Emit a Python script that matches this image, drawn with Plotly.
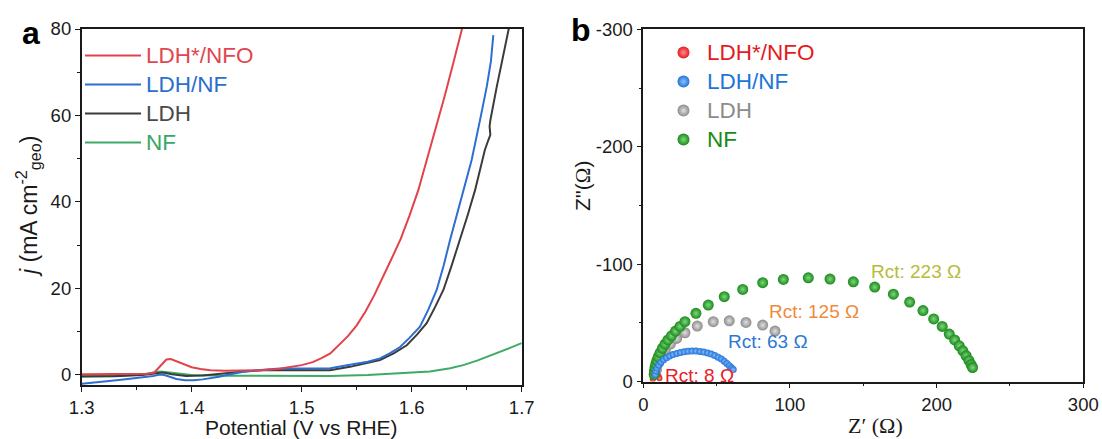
import plotly.graph_objects as go

W, H = 1102, 439
FONT = "Arial, Liberation Sans, sans-serif"
SERIF = "Times New Roman, Liberation Serif, serif"

# ---------------- Panel a : LSV ----------------
red_x = [1.300, 1.320, 1.340, 1.360, 1.366, 1.370, 1.374, 1.377, 1.381, 1.386, 1.392, 1.400, 1.408,
         1.417, 1.430, 1.445, 1.462, 1.478, 1.492, 1.500, 1.510, 1.518, 1.526, 1.534, 1.542, 1.550,
         1.558, 1.566, 1.574, 1.582, 1.590, 1.598, 1.606, 1.614, 1.622, 1.630, 1.638, 1.6455, 1.648]
red_y = [0.10, 0.10, 0.12, 0.20, 0.50, 1.60, 2.90, 3.50, 3.60, 3.10, 2.50, 1.70, 1.30,
         1.00, 0.90, 0.95, 1.00, 1.30, 1.80, 2.20, 2.90, 3.80, 4.90, 6.80, 8.90, 11.4,
         14.6, 18.4, 22.6, 27.0, 31.4, 36.8, 42.7, 49.8, 57.0, 64.5, 72.3, 79.8, 82.3]

blue_x = [1.300, 1.310, 1.325, 1.340, 1.356, 1.365, 1.371, 1.375, 1.380, 1.386, 1.394, 1.402, 1.410,
          1.418, 1.425, 1.432, 1.440, 1.447, 1.460, 1.477, 1.490, 1.508, 1.526, 1.540, 1.550, 1.560,
          1.5712, 1.580, 1.5894, 1.598, 1.6075, 1.615, 1.6227, 1.629, 1.6348, 1.641, 1.6469, 1.6545,
          1.6621, 1.6682, 1.672, 1.6742]
blue_y = [-2.10, -1.90, -1.45, -1.05, -0.65, -0.30, 0.05, -0.10, -0.50, -1.00, -1.30, -1.30, -1.10,
          -0.85, -0.50, -0.10, 0.30, 0.65, 1.00, 1.35, 1.40, 1.40, 1.50, 2.10, 2.50, 3.00,
          3.75, 4.90, 6.40, 8.50, 11.1, 15.0, 19.6, 25.2, 31.1, 37.0, 42.7, 49.7,
          58.9, 66.6, 72.5, 78.6]

black_x = [1.300, 1.330, 1.355, 1.368, 1.374, 1.382, 1.395, 1.410, 1.430, 1.450, 1.470, 1.490, 1.510,
           1.5257, 1.5439, 1.556, 1.5712, 1.584, 1.5955, 1.605, 1.6136, 1.621, 1.6288, 1.636, 1.6439,
           1.651, 1.6576, 1.6621, 1.6665, 1.6697, 1.6715, 1.6708, 1.6716, 1.6773, 1.683, 1.6878, 1.689]
black_y = [-0.40, -0.35, -0.10, 0.40, 0.50, 0.10, -0.30, -0.20, 0.30, 0.80, 1.05, 1.05, 1.00,
           1.00, 1.80, 2.50, 3.40, 5.00, 6.80, 9.30, 11.9, 15.5, 19.6, 25.0, 31.1,
           37.0, 42.7, 47.3, 52.0, 54.3, 55.5, 57.5, 59.0, 66.6, 73.5, 79.0, 81.0]

green_x = [1.300, 1.330, 1.356, 1.365, 1.3712, 1.380, 1.390, 1.400, 1.430, 1.480, 1.5257, 1.560,
           1.590, 1.6166, 1.635, 1.6469, 1.660, 1.675, 1.6894, 1.700]
green_y = [-0.50, -0.30, 0.10, 0.50, 0.70, 0.50, 0.15, -0.10, -0.25, -0.30, -0.30, -0.10,
           0.30, 0.75, 1.50, 2.20, 3.30, 4.70, 6.20, 7.30]

lsv_names = ["LDH*/NFO", "LDH/NF", "LDH", "NF"]
lsv_line_colors = ["#e2434b", "#2d6fd0", "#3b3b3b", "#3daa66"]
lsv_text_colors = ["#e0474f", "#2a6fce", "#4a4a4a", "#3aa864"]

# ---------------- Panel b : EIS (Nyquist) ----------------
eis_red_x = [6.5, 6.8, 7.2, 7.8, 8.5, 9.3, 10.0, 10.6, 11.0]
eis_red_y = [2.0, 4.0, 5.5, 6.3, 6.5, 6.2, 5.3, 4.0, 2.8]

eis_blue_x = [8.0, 8.5, 9.3, 10.5, 12.0, 13.8, 15.8, 18.0, 20.3, 22.8, 25.3, 27.9, 30.5, 33.2,
              35.9, 38.6, 41.2, 43.8, 46.3, 48.7, 51.0, 53.2, 55.2, 57.0, 58.7, 60.1, 61.3]
eis_blue_y = [6.0, 9.0, 11.5, 14.0, 16.5, 18.5, 20.3, 21.8, 23.0, 24.0, 24.8, 25.4, 25.8, 26.0,
              26.0, 25.7, 25.2, 24.4, 23.4, 22.2, 20.8, 19.2, 17.4, 15.5, 13.6, 11.8, 10.2]

eis_gray_x = [9.0, 10.5, 12.5, 15.0, 18.5, 22.7, 28.4, 36.8, 47.7, 58.6, 70.0, 81.4, 89.8]
eis_gray_y = [10.0, 16.0, 22.0, 27.0, 32.0, 36.8, 41.6, 47.3, 51.0, 51.8, 50.4, 48.1, 43.0]

eis_green_x = [7.4, 7.6, 8.0, 8.6, 9.3, 10.2, 11.4, 13.0, 14.8, 16.8, 19.2, 22.0, 25.0, 28.4,
               35.9, 44.3, 55.2, 67.8, 81.4, 95.5, 112.5, 127.3, 143.2, 157.8, 170.5, 181.6,
               190.7, 198.0, 203.8, 208.6, 212.3, 215.4, 217.9, 220.1, 222.0, 223.5, 224.5]
eis_green_y = [6.0, 9.0, 12.0, 15.0, 18.0, 21.0, 24.5, 28.3, 32.0, 35.5, 39.0, 43.0, 47.0, 51.0,
               58.1, 65.2, 72.3, 78.5, 84.2, 87.0, 88.4, 87.3, 85.0, 80.5, 74.4, 67.7,
               60.5, 53.4, 47.0, 40.5, 35.5, 30.5, 26.2, 22.0, 18.0, 14.5, 12.0]

eis_colors = ["#e41b23", "#2274d6", "#8c8c8c", "#1a8a1a"]
eis_highlights = ["#ff8a8a", "#8cc0ff", "#e0e0e0", "#7fd67f"]
eis_sizes = [6, 7, 11, 11]

rct_labels = ["Rct: 223 Ω", "Rct: 125 Ω", "Rct: 63 Ω", "Rct: 8 Ω"]
rct_x = [185.6, 116.3, 85.0, 38.4]
rct_y = [93.5, 59.5, 33.9, 5.5]
rct_colors = ["#b9bb3a", "#f08a3c", "#2c78d4", "#e8202a"]

fig = go.Figure()

lsv_data = [(red_x, red_y), (blue_x, blue_y), (black_x, black_y), (green_x, green_y)]
draw_order = [3, 2, 1, 0]
for i in draw_order:
    xs, ys = lsv_data[i]
    fig.add_trace(go.Scatter(
        x=xs, y=ys, mode="lines", line=dict(color=lsv_line_colors[i], width=2),
        name=f"<span style='color:{lsv_text_colors[i]};font-size:22.5px'>{lsv_names[i]}</span>",
        legend="legend", legendrank=i + 1, xaxis="x", yaxis="y"))

eis_data = [(eis_red_x, eis_red_y), (eis_blue_x, eis_blue_y), (eis_gray_x, eis_gray_y),
            (eis_green_x, eis_green_y)]
eis_order = [0, 2, 3, 1]
for i in eis_order:
    xs, ys = eis_data[i]
    fig.add_trace(go.Scatter(
        x=xs, y=[-v for v in ys], mode="markers",
        marker=dict(color=eis_colors[i], size=eis_sizes[i],
                    gradient=dict(type="radial", color=eis_highlights[i]),
                    line=dict(width=0)),
        name=f"<span style='color:{eis_colors[i]};font-size:22.5px'>{lsv_names[i]}</span>",
        legend="legend2", legendrank=i + 1, xaxis="x2", yaxis="y2"))

tickfont = dict(family=FONT, size=18.5, color="#1a1a1a")
common = dict(showline=True, linecolor="#1a1a1a", linewidth=1.6, mirror=True,
              ticks="outside", ticklen=5, tickwidth=1.4, tickcolor="#1a1a1a",
              showgrid=False, zeroline=False, tickfont=tickfont, automargin=False)

fig.update_layout(
    template="none",
    width=W, height=H, margin=dict(l=0, r=0, t=0, b=0, autoexpand=False),
    paper_bgcolor="white", plot_bgcolor="white", font=dict(family=FONT),
    xaxis=dict(domain=[81.7 / W, 521.7 / W], range=[1.3, 1.7], dtick=0.1, tick0=1.3,
               tickformat=".1f", anchor="y",
               minor=dict(ticks="outside", ticklen=3, dtick=0.05, tickcolor="#1a1a1a"), **common),
    yaxis=dict(domain=[1 - 385 / H, 1 - 29 / H], range=[-2.4, 80], dtick=20, tick0=0, anchor="x",
               minor=dict(ticks="outside", ticklen=3, dtick=10, tickcolor="#1a1a1a"), **common),
    xaxis2=dict(domain=[643.3 / W, 1083.3 / W], range=[0, 300], dtick=100, anchor="y2",
                minor=dict(ticks="outside", ticklen=3, dtick=50, tickcolor="#1a1a1a"), **common),
    yaxis2=dict(domain=[1 - 381.6 / H, 1 - 29.3 / H], range=[0, -300], anchor="x2",
                tickmode="array", tickvals=[0, -100, -200, -300],
                ticktext=["0", "-100", "-200", "-300"],
                minor=dict(ticks="outside", ticklen=3, tickvals=[-50, -150, -250],
                           tickcolor="#1a1a1a"), **common),
    legend=dict(x=80 / W, y=1 - 36 / H, xanchor="left", yanchor="top", bgcolor="rgba(0,0,0,0)",
                font=dict(family=FONT, size=20), itemwidth=56, tracegroupgap=0),
    legend2=dict(x=660 / W, y=1 - 33 / H, xanchor="left", yanchor="top", bgcolor="rgba(0,0,0,0)",
                 font=dict(family=FONT, size=20), itemsizing="constant", itemwidth=37,
                 tracegroupgap=0),
    showlegend=True,
)

ann = []
cc = dict(xref="paper", yref="paper", showarrow=False, xanchor="center", yanchor="middle")
# panel letters
ann.append(dict(text="<b>a</b>", x=31 / W, y=1 - 33 / H,
                font=dict(family=FONT, size=32, color="black"), **cc))
ann.append(dict(text="<b>b</b>", x=581 / W, y=1 - 30 / H,
                font=dict(family=FONT, size=32, color="black"), **cc))
# axis titles
ann.append(dict(text="Potential (V vs RHE)", x=301.7 / W, y=1 - 427 / H,
                font=dict(family=FONT, size=21, color="#1a1a1a"), **cc))
ann.append(dict(text="<i>j</i> (mA cm<sup>-2</sup><sub>geo</sub>)", x=28 / W, y=1 - 207 / H,
                textangle=-90, font=dict(family=FONT, size=23, color="#1a1a1a"), **cc))
ann.append(dict(text="Z′ (Ω)", x=875 / W, y=1 - 425 / H,
                font=dict(family=SERIF, size=22, color="#1a1a1a"), **cc))
ann.append(dict(text="Z''(<span style='font-family:Liberation Serif'>Ω</span>)", x=583 / W,
                y=1 - 186 / H, textangle=-90,
                font=dict(family=FONT, size=21, color="#1a1a1a"), **cc))
for t, xv, yv, c in zip(rct_labels, rct_x, rct_y, rct_colors):
    ann.append(dict(text=t, x=xv, y=-yv, xref="x2", yref="y2", showarrow=False,
                    xanchor="center", yanchor="middle",
                    font=dict(family=FONT, size=19, color=c)))
fig.update_layout(annotations=ann)

fig.write_html("out.html")
